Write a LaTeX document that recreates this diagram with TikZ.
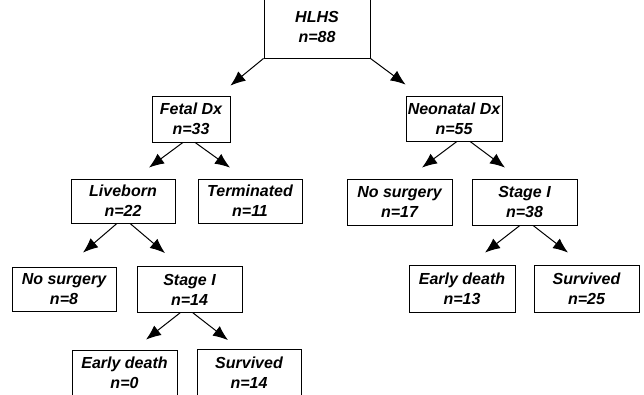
\documentclass[tikz,border=0pt]{standalone}
\usepackage{fontspec}
\setmainfont{Liberation Sans}
\usetikzlibrary{calc,arrows.meta}

\begin{document}
\begin{tikzpicture}[x=1pt,y=-1pt,
  box/.style={draw,line width=0.8pt,align=center,inner sep=0pt,
    minimum width=105,minimum height=45,
    font=\fontsize{16}{20}\selectfont\bfseries\itshape},
  arr/.style={line width=1pt,-{Latex[length=15pt,width=12pt]}}]
\useasboundingbox (0,0) rectangle (644,395);
\node[box,minimum width=106,minimum height=62] (hlhs) at (317,27) {HLHS\\n=88};
\node[box,minimum width=78,minimum height=46] (fetal) at (191,119) {Fetal Dx\\n=33};
\node[box,minimum width=96] (neo) at (454,118.5) {Neonatal Dx\\n=55};
\node[box,minimum width=104,minimum height=44] (live) at (123,201) {Liveborn\\n=22};
\node[box,minimum width=104,minimum height=44] (term) at (250,201) {Terminated\\n=11};
\node[box,minimum width=104,minimum height=44] (nosurgL) at (64,289) {No surgery\\n=8};
\node[box,minimum height=46] (stageL) at (189.5,289.5) {Stage I\\n=14};
\node[box,minimum height=46] (earlyL) at (124.5,373) {Early death\\n=0};
\node[box,minimum width=104,minimum height=46] (survL) at (249,372.5) {Survived\\n=14};
\node[box,minimum height=46] (nosurgR) at (399.5,202) {No surgery\\n=17};
\node[box,minimum height=46] (stageR) at (524.5,202) {Stage I\\n=38};
\node[box,minimum width=106,minimum height=47] (earlyR) at (462,288.5) {Early death\\n=13};
\node[box,minimum height=47] (survR) at (586.5,288.5) {Survived\\n=25};
% top split
\draw[arr] (hlhs.south west) -- ($(fetal.north east)+(0,-10)$);
\draw[arr] (hlhs.south east) -- ($(neo.north west)+(0,-11)$);
% fetal branch
\draw[arr] ($(fetal.south)+(-8,0)$) -- ($(live.north)+(26,-11)$);
\draw[arr] ($(fetal.south)+(4,0)$) -- ($(term.north)+(-20,-11)$);
\draw[arr] ($(live.south)+(-6,0)$) -- ($(nosurgL.north)+(19,-14)$);
\draw[arr] ($(live.south)+(7,0)$) -- ($(stageL.north)+(-24.5,-13)$);
\draw[arr] ($(stageL.south)+(-9.5,0)$) -- ($(earlyL.north)+(21.5,-10)$);
\draw[arr] ($(stageL.south)+(3.5,0)$) -- ($(survL.north)+(-21,-9)$);
% neonatal branch
\draw[arr] ($(neo.south)+(3,0)$) -- ($(nosurgR.north)+(22.5,-11)$);
\draw[arr] ($(neo.south)+(16,0)$) -- ($(stageR.north)+(-19.5,-11)$);
\draw[arr] ($(stageR.south)+(-4.5,0)$) -- ($(earlyR.north)+(23,-12)$);
\draw[arr] ($(stageR.south)+(8.5,0)$) -- ($(survR.north)+(-18.5,-12)$);
\end{tikzpicture}
\end{document}
